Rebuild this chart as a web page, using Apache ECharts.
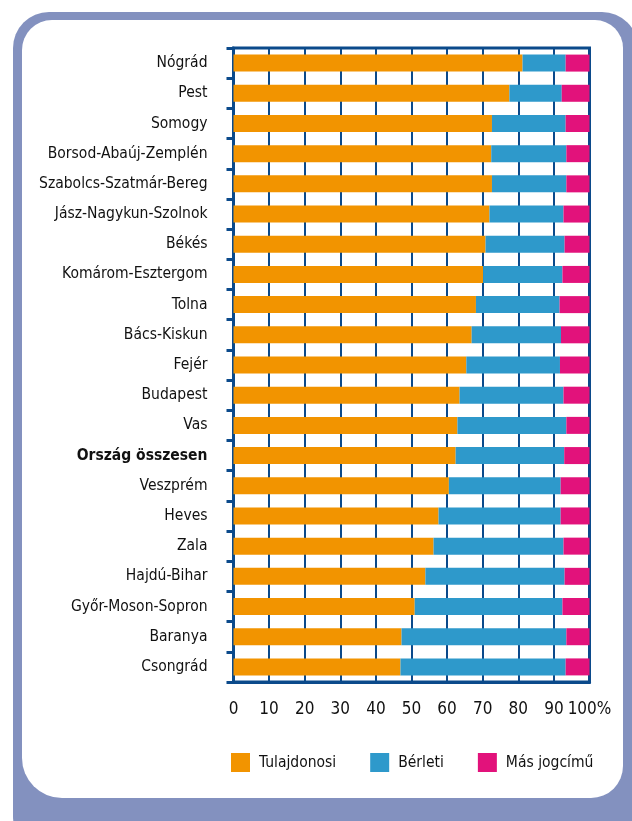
<!DOCTYPE html>
<html>
<head>
<meta charset="utf-8">
<script src="https://cdn.jsdelivr.net/npm/echarts@6/dist/echarts.min.js"></script>
<style>
  html, body { margin: 0; padding: 0; background: #fff; }
  #chart { width: 632px; height: 821px; }
</style>
</head>
<body>
<div id="chart"></div>
<script>
(function () {
    // megyék, felülről lefelé
    const categories = [
        'Nógrád', 'Pest', 'Somogy', 'Borsod-Abaúj-Zemplén', 'Szabolcs-Szatmár-Bereg',
        'Jász-Nagykun-Szolnok', 'Békés', 'Komárom-Esztergom', 'Tolna', 'Bács-Kiskun',
        'Fejér', 'Budapest', 'Vas', 'Ország összesen', 'Veszprém', 'Heves', 'Zala',
        'Hajdú-Bihar', 'Győr-Moson-Sopron', 'Baranya', 'Csongrád'
    ];
    const tulajdonosi = [81.2, 77.5, 72.6, 72.4, 72.6, 71.9, 70.8, 70.1, 68.1, 66.9,
        65.4, 63.5, 62.9, 62.4, 60.5, 57.6, 56.2, 53.9, 50.9, 47.2, 46.9];
    const berleti = [12.1, 14.7, 20.7, 21.1, 20.9, 20.8, 22.2, 22.3, 23.5, 25.1,
        26.3, 29.2, 30.6, 30.5, 31.4, 34.3, 36.5, 39.1, 41.5, 46.3, 46.4];
    const masJogcimu = [6.7, 7.8, 6.7, 6.5, 6.5, 7.3, 7.0, 7.6, 8.4, 8.0,
        8.3, 7.3, 6.5, 7.1, 8.1, 8.1, 7.3, 7.0, 7.6, 6.5, 6.7];
    const seriesNames = ['Tulajdonosi', 'Bérleti', 'Más jogcímű'];

    const font = "'Liberation Sans Narrow', 'DejaVu Sans Condensed', 'Roboto', sans-serif";
    const navy = '#0b4a8b';
    const frame = '#8391bf';

    let option = {
        backgroundColor: '#fff',
        textStyle: { fontFamily: font },
        graphic: [
            { type: 'rect', z: -10, silent: true,
              shape: { x: 13, y: 12, width: 625, height: 840, r: 36 },
              style: { fill: frame } },
            { type: 'rect', z: -9, silent: true,
              shape: { x: 22, y: 20, width: 601, height: 778, r: [30, 28, 32, 40] },
              style: { fill: '#fff' } }
        ],
        legend: {
            left: 226,
            top: 748,
            itemWidth: 19,
            itemHeight: 19,
            itemGap: 34,
            icon: 'rect',
            data: seriesNames,
            textStyle: { fontFamily: font, fontSize: 15.5, color: '#111', padding: [0, 0, 0, 4] }
        },
        grid: {
            left: 233.5,
            right: 42.5,
            top: 48,
            bottom: 139,
            show: true,
            borderColor: navy,
            borderWidth: 3,
            backgroundColor: 'transparent'
        },
        xAxis: {
            type: 'value',
            min: 0,
            max: 100,
            interval: 10,
            axisLine: { show: true, lineStyle: { color: navy, width: 3 } },
            axisTick: { show: false },
            splitLine: { show: true, lineStyle: { color: navy, width: 2 } },
            axisLabel: {
                margin: 19,
                fontSize: 17,
                color: '#111',
                fontFamily: font,
                formatter: function (v) { return v === 100 ? '100%' : String(v); }
            }
        },
        yAxis: {
            type: 'category',
            inverse: true,
            data: categories,
            axisLine: { show: true, lineStyle: { color: navy, width: 3 } },
            axisTick: { show: true, length: 7, lineStyle: { color: navy, width: 3 } },
            axisLabel: {
                margin: 26,
                fontSize: 15.5,
                color: '#111',
                fontFamily: font,
                formatter: function (v) { return v === 'Ország összesen' ? '{b|' + v + '}' : v; },
                rich: { b: { fontWeight: 'bold', fontSize: 15.5, fontFamily: font, color: '#111' } }
            }
        },
        series: [
            { name: seriesNames[0], type: 'bar', stack: 'total', barWidth: 17,
              itemStyle: { color: '#f29400' }, data: tulajdonosi },
            { name: seriesNames[1], type: 'bar', stack: 'total', barWidth: 17,
              itemStyle: { color: '#2e99cb' }, data: berleti },
            { name: seriesNames[2], type: 'bar', stack: 'total', barWidth: 17,
              itemStyle: { color: '#e2127b' }, data: masJogcimu }
        ]
    };

    let myChart = echarts.init(document.getElementById('chart'));
    myChart && myChart.setOption(option);
}());
</script>
</body>
</html>
